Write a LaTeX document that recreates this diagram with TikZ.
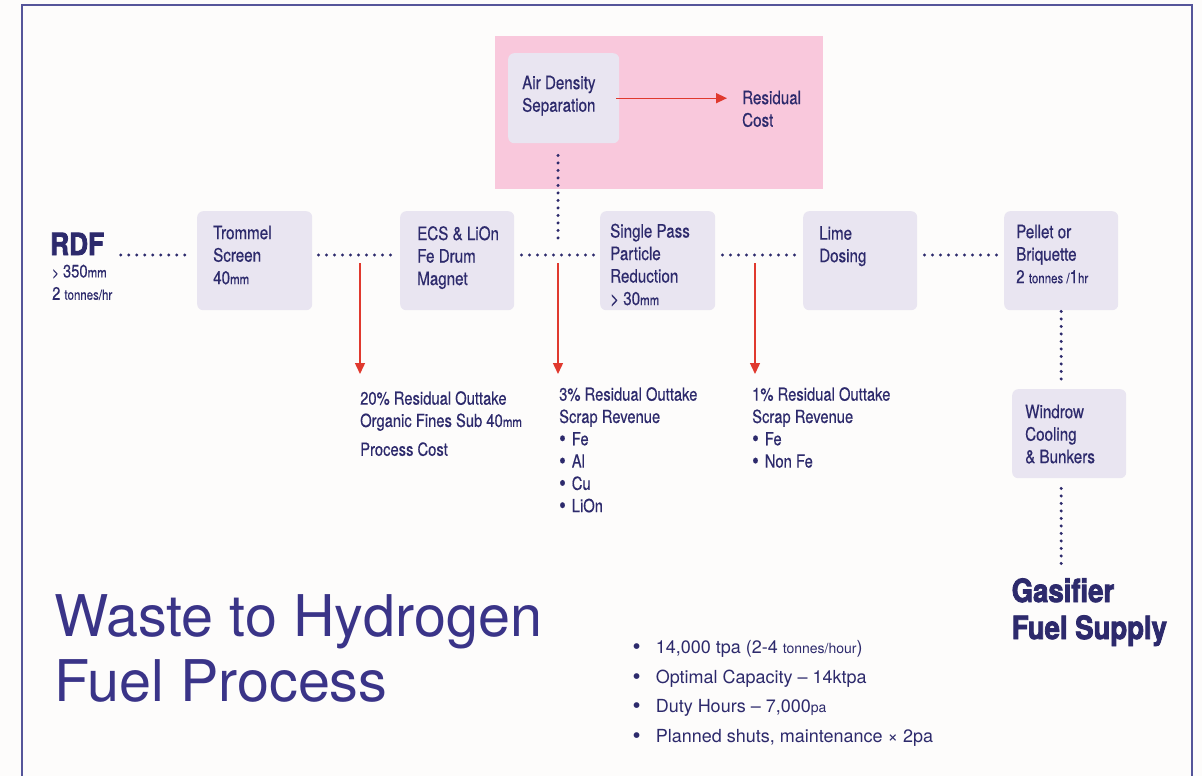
\documentclass[tikz,border=0pt]{standalone}
\usepackage{fontspec}
\setmainfont{TeX Gyre Heros}
\newfontfamily\condfont{TeX Gyre Heros}[FakeStretch=0.82,FakeBold=0.4]
\newfontfamily\heavyfont{TeX Gyre Heros}[FakeStretch=0.86,FakeBold=2.6]
\usetikzlibrary{arrows.meta}

\definecolor{paper}{HTML}{FDFCFB}
\definecolor{ink}{HTML}{2D2A6C}
\definecolor{titleink}{HTML}{3A3488}
\definecolor{boxfill}{HTML}{E9E5F1}
\definecolor{pinkzone}{HTML}{F9C8DC}
\definecolor{flowred}{HTML}{E0392E}
\definecolor{framecol}{HTML}{55559A}

% smaller unit text inside a line
\newcommand\unitsm[1]{{\fontsize{14}{14}\selectfont #1}}
% slightly enlarged bullet dot
\newcommand\bigdot{\raisebox{-1pt}{\fontsize{23}{0}\selectfont\textbullet}}
% bullet item for the outtake lists
\newcommand\itm[1]{\bigdot\hspace{6pt}#1}
% bullet item for the summary list
\newcommand\fact[1]{\bigdot\hspace{15pt}#1}

\tikzset{
  stagebox/.style={rectangle, rounded corners=6pt, fill=boxfill, draw=none,
    inner sep=0pt, anchor=north west},
  stagetext/.style={anchor=north west, inner sep=0pt, align=left, text=ink,
    font=\condfont\fontsize{18.5}{22.5}\selectfont},
  notetext/.style={anchor=north west, inner sep=0pt, align=left, text=ink,
    font=\condfont\fontsize{18}{22.3}\selectfont},
  heavytext/.style={inner sep=0pt, align=left, text=ink},
  dotline/.style={draw=ink, line width=3.3pt, line cap=round,
    dash pattern=on 0pt off 8pt},
  dotlinev/.style={draw=ink, line width=3.3pt, line cap=round,
    dash pattern=on 0pt off 7.5pt},
  outflow/.style={draw=flowred, line width=1.4pt,
    -{Triangle[length=11pt,width=10pt]}},
}

\begin{document}
\begin{tikzpicture}[x=1pt,y=-1pt]
\useasboundingbox (0,0) rectangle (1202,776);
\fill[paper] (0,0) rectangle (1202,776);
\draw[framecol, line width=2pt] (22,777) -- (22,5) -- (1192,5) -- (1192,777);

% air separation zone
\node[fill=pinkzone, inner sep=0pt, anchor=north west,
  minimum width=328pt, minimum height=153pt] (zone) at (495,36) {};
\node[stagebox, minimum width=111pt, minimum height=90pt] (air) at (508,53) {};
\node[stagetext] (airtxt) at (522,75.5) {Air Density\\Separation};
\node[stagetext] (residual) at (742,90.5) {Residual\\Cost};

% main process row
\node[stagebox, minimum width=115pt, minimum height=99pt] (trommel) at (197,211) {};
\node[stagebox, minimum width=114pt, minimum height=99pt] (ecs) at (400,211) {};
\node[stagebox, minimum width=115pt, minimum height=99pt] (single) at (600,211) {};
\node[stagebox, minimum width=114pt, minimum height=99pt] (lime) at (803,211) {};
\node[stagebox, minimum width=114pt, minimum height=99pt] (pellet) at (1004,211) {};
\node[stagebox, minimum width=114pt, minimum height=89pt] (windrow) at (1012,389) {};

\node[stagetext] (trommeltxt) at (213,225.5) {Trommel\\Screen\\40\unitsm{mm}};
\node[stagetext] (ecstxt) at (417,226) {ECS \& LiOn\\Fe Drum\\Magnet};
\node[stagetext] (singletxt) at (610,223.5) {Single Pass\\Particle\\Reduction\\> 30\unitsm{mm}};
\node[stagetext] (limetxt) at (819,226) {Lime\\Dosing};
\node[stagetext] (pellettxt) at (1016,224.5) {Pellet or\\Briquette\\2 \unitsm{tonnes /}1\unitsm{hr}};
\node[stagetext] (windrowtxt) at (1025,404.5) {Windrow\\Cooling\\\& Bunkers};

% feed and product
\node[heavytext, anchor=base west, font=\heavyfont\bfseries\fontsize{30.5}{30}\selectfont]
  (rdf) at (50,255) {RDF};
\node[notetext] (rdfinfo) at (52,264.5) {\unitsm{>} 350\unitsm{mm}\\2 \unitsm{tonnes/hr}};
\node[heavytext, anchor=north west, font=\heavyfont\bfseries\fontsize{32}{37}\selectfont]
  (gasifier) at (1011.5,578) {Gasifier\\Fuel Supply};

% outtakes
\node[notetext] (out1) at (360,391) {20\% Residual Outtake\\Organic Fines Sub 40\unitsm{mm}\\[6.5pt]Process Cost};
\node[notetext] (out2) at (559,387) {3\% Residual Outtake\\Scrap Revenue\\\itm{Fe}\\\itm{Al}\\\itm{Cu}\\\itm{LiOn}};
\node[notetext] (out3) at (752,387) {1\% Residual Outtake\\Scrap Revenue\\\itm{Fe}\\\itm{Non Fe}};

% title and summary
\node[inner sep=0pt, anchor=north west, align=left, text=titleink,
  font=\fontsize{57.5}{65}\selectfont] (title) at (54,594) {Waste to Hydrogen\\Fuel Process};
\node[inner sep=0pt, anchor=north west, align=left, text=ink,
  font=\fontsize{18}{29.5}\selectfont] (facts) at (632.5,640.5)
  {\fact{14,000 tpa (2-4 \unitsm{tonnes/hour})}\\
   \fact{Optimal Capacity – 14ktpa}\\
   \fact{Duty Hours – 7,000\unitsm{pa}}\\
   \fact{Planned shuts, maintenance × 2pa}};

% junctions on the process line
\coordinate (rowline) at (0,255);
\coordinate (drop1) at (360,255);
\coordinate (drop2) at (558,255);
\coordinate (drop3) at (755,255);

% dotted process flow
\draw[dotline, shorten <=16.5pt, shorten >=6.5pt] (rdf.east |- rowline) -- (trommel.west |- rowline);
\draw[dotline, shorten <=6pt, shorten >=9.5pt] (trommel.east |- rowline) -- (ecs.west |- rowline);
\draw[dotline, shorten <=7pt, shorten >=6.5pt] (ecs.east |- rowline) -- (single.west |- rowline);
\draw[dotline, shorten <=7pt, shorten >=8.5pt] (single.east |- rowline) -- (lime.west |- rowline);
\draw[dotline, shorten <=7pt, shorten >=7.5pt] (lime.east |- rowline) -- (pellet.west |- rowline);
\draw[dotlinev, shorten <=12pt, shorten >=11pt] (drop2 |- air.south) -- (drop2);
\draw[dotlinev, shorten <=1pt, shorten >=4pt] (pellet.south) -- (pellet.south |- windrow.north);
\draw[dotlinev, shorten <=10pt, shorten >=14.5pt] (pellet.south |- windrow.south) -- (pellet.south |- gasifier.north);

% residual streams
\draw[outflow, shorten <=-3pt, shorten >=15pt] (air.east) -- (air.east -| residual.west);
\draw[outflow, shorten >=17pt] ([yshift=-8pt]drop1) -- (drop1 |- out1.north);
\draw[outflow, shorten >=13pt] ([yshift=-8pt]drop2) -- (drop2 |- out2.north);
\draw[outflow, shorten >=13pt] ([yshift=-8pt]drop3) -- (drop3 |- out3.north);
\end{tikzpicture}
\end{document}
